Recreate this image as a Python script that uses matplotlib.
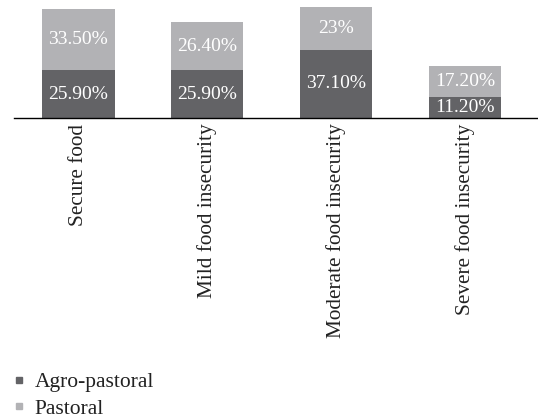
import matplotlib
matplotlib.use("Agg")
import matplotlib.pyplot as plt
from matplotlib.lines import Line2D

categories = ["Secure food", "Mild food insecurity", "Moderate food insecurity", "Severe food insecurity"]
agro_pastoral = [25.9, 25.9, 37.1, 11.2]
pastoral = [33.5, 26.4, 23.0, 17.2]
agro_labels = ["25.90%", "25.90%", "37.10%", "11.20%"]
pastoral_labels = ["33.50%", "26.40%", "23%", "17.20%"]
series_names = ["Agro-pastoral", "Pastoral"]

dark = "#636366"
light = "#b2b2b5"
plt.rcParams['font.family'] = ['Liberation Serif', 'DejaVu Serif']

fig = plt.figure(figsize=(5.38, 4.19), dpi=100)
ax = fig.add_axes([14 / 538, (419 - 118) / 419, 524 / 538, 118 / 419])
x = list(range(len(categories)))
b1 = ax.bar(x, agro_pastoral, width=0.56, color=dark)
b2 = ax.bar(x, pastoral, width=0.56, bottom=agro_pastoral, color=light)
ax.bar_label(b1, labels=agro_labels, label_type='center', color='white', fontsize=14)
ax.bar_label(b2, labels=pastoral_labels, label_type='center', color='white', fontsize=14)

ax.set_xlim(-0.5, (538 - 79) / 128.7)
ax.set_ylim(0, 118 / 1.84)
for s in ["top", "left", "right"]:
    ax.spines[s].set_visible(False)
ax.spines["bottom"].set_color("black")
ax.spines["bottom"].set_linewidth(1.0)
ax.set_yticks([])
ax.set_xticks(x)
ax.set_xticklabels(categories, rotation=90, fontsize=15.3, color="#222222")
ax.tick_params(axis='x', length=0, pad=4)

handles = [Line2D([0], [0], marker='s', color='none', markerfacecolor=c, markeredgecolor=c, markersize=5)
           for c in (dark, light)]
fig.legend(handles, series_names, loc='upper left', bbox_to_anchor=(8 / 538, 1 - 372 / 419),
           frameon=False, fontsize=15.5, handlelength=1.0, handletextpad=0.25, labelspacing=0.32,
           borderpad=0, borderaxespad=0, labelcolor="#222222")

fig.savefig("out.png", dpi=100)
